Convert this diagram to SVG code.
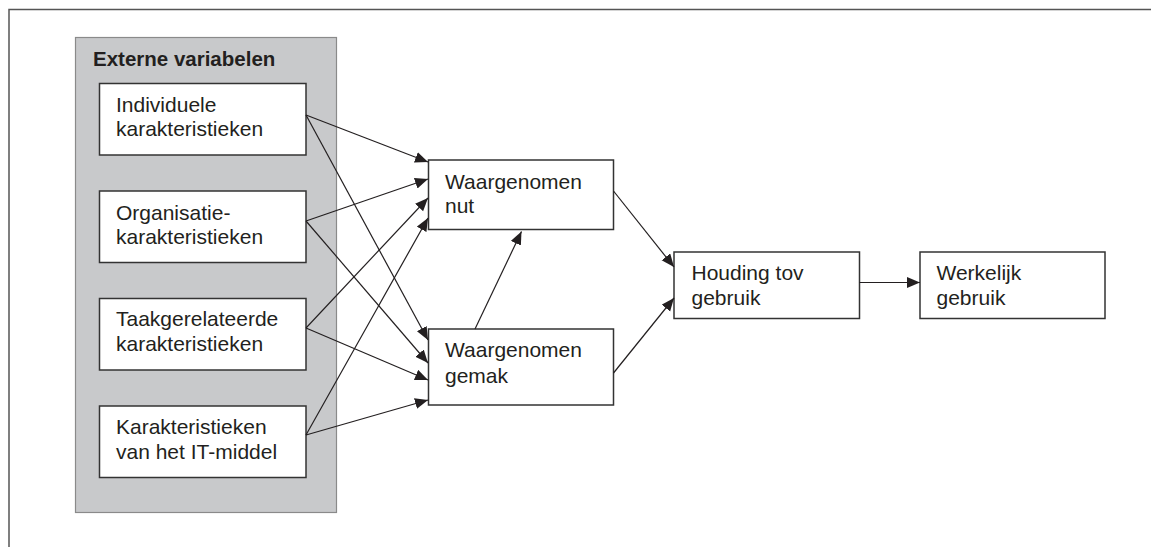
<svg xmlns="http://www.w3.org/2000/svg" width="1151" height="547" viewBox="0 0 1151 547">
<style>
.frame{fill:none;stroke:#555;stroke-width:1.5}
.panel{fill:#c8c9cb;stroke:#8a8a8a;stroke-width:1.2}
.box{fill:#fff;stroke:#333;stroke-width:1.5}
.t{font-family:"Liberation Sans",Arial,sans-serif;font-size:21px;fill:#231f20}
.tb{font-family:"Liberation Sans",Arial,sans-serif;font-size:20.5px;font-weight:bold;fill:#231f20}
.c{fill:none;stroke:#231f20;stroke-width:1.2;marker-end:url(#ah)}
</style>
<defs>
<marker id="ah" markerUnits="userSpaceOnUse" markerWidth="14" markerHeight="12" refX="13" refY="5.5" orient="auto">
<path d="M0,0 L13,5.5 L0,11 Z" fill="#231f20"/>
</marker>
</defs>
<rect width="1151" height="547" fill="#fff"/>
<g id="frame">
<path class="frame" d="M9,547 V9.5 H1151"/>
</g>
<g id="externe-variabelen">
<rect class="panel" x="75.5" y="37.5" width="261" height="475"/>
<text class="tb" x="93" y="65.5">Externe variabelen</text>
</g>
<g id="individuele">
<rect class="box" x="99.5" y="83.5" width="206.5" height="71.5"/>
<text class="t" x="116" y="111.5">Individuele</text>
<text class="t" x="116" y="136">karakteristieken</text>
</g>
<g id="organisatie">
<rect class="box" x="99.5" y="191" width="206.5" height="71.5"/>
<text class="t" x="116" y="219.5">Organisatie-</text>
<text class="t" x="116" y="244">karakteristieken</text>
</g>
<g id="taak">
<rect class="box" x="99.5" y="298.5" width="206.5" height="71.5"/>
<text class="t" x="116" y="325.5">Taakgerelateerde</text>
<text class="t" x="116" y="351">karakteristieken</text>
</g>
<g id="it-middel">
<rect class="box" x="99.5" y="406" width="206.5" height="71.5"/>
<text class="t" x="116" y="434">Karakteristieken</text>
<text class="t" x="116" y="458.5">van het IT-middel</text>
</g>
<g id="nut">
<rect class="box" x="428.5" y="160" width="185" height="69.5"/>
<text class="t" x="445" y="188.5">Waargenomen</text>
<text class="t" x="445" y="213">nut</text>
</g>
<g id="gemak">
<rect class="box" x="428.5" y="329" width="185" height="76"/>
<text class="t" x="445" y="357">Waargenomen</text>
<text class="t" x="445" y="383">gemak</text>
</g>
<g id="houding">
<rect class="box" x="674" y="252" width="185.5" height="66.5"/>
<text class="t" x="691.5" y="280">Houding tov</text>
<text class="t" x="691.5" y="305">gebruik</text>
</g>
<g id="werkelijk">
<rect class="box" x="920" y="252" width="185" height="66.5"/>
<text class="t" x="936.5" y="280">Werkelijk</text>
<text class="t" x="936.5" y="305">gebruik</text>
</g>
<g id="connectors">
<line class="c" x1="306" y1="115" x2="428" y2="162"/>
<line class="c" x1="306" y1="115" x2="428" y2="340"/>
<line class="c" x1="306" y1="221" x2="428" y2="179"/>
<line class="c" x1="306" y1="221" x2="428" y2="363"/>
<line class="c" x1="306" y1="328" x2="428" y2="198"/>
<line class="c" x1="306" y1="328" x2="428" y2="380"/>
<line class="c" x1="306" y1="435" x2="428" y2="218"/>
<line class="c" x1="306" y1="435" x2="428" y2="400"/>
<line class="c" x1="475" y1="329" x2="521.5" y2="231.5"/>
<line class="c" x1="613.5" y1="191" x2="674" y2="267"/>
<line class="c" x1="613.5" y1="373" x2="674" y2="298"/>
<line class="c" x1="859.5" y1="282.5" x2="920" y2="282.5"/>
</g>
</svg>
